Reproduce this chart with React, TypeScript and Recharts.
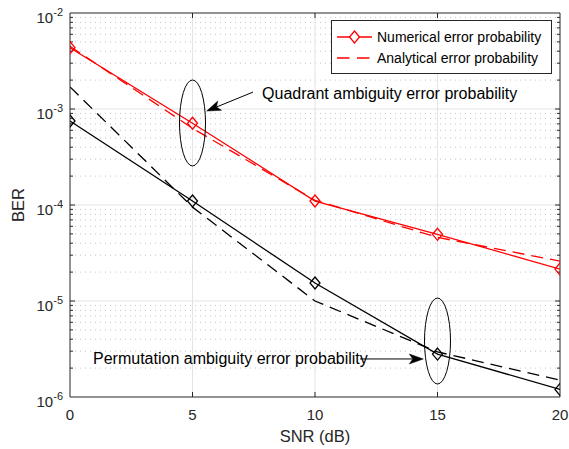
import React from 'react';
import { LineChart, Line, XAxis, YAxis, ReferenceLine, ReferenceDot, Legend, Label } from 'recharts';

// ---- data ----
const snr = [0, 5, 10, 15, 20];
const quadNumerical = [4.35e-3, 7.1e-4, 1.1e-4, 4.95e-5, 2.15e-5];
const quadAnalytical = [4.5e-3, 6.3e-4, 1.12e-4, 4.6e-5, 2.6e-5];
const permNumerical = [7.5e-4, 1.1e-4, 1.54e-5, 2.8e-6, 1.2e-6];
const permAnalytical = [1.7e-3, 9.5e-5, 1.0e-5, 2.95e-6, 1.5e-6];

const xTicks = [0, 5, 10, 15, 20];
const yTicks = [1e-6, 1e-5, 1e-4, 1e-3, 1e-2];
const decades = [1e-6, 1e-5, 1e-4, 1e-3];
const minorMultipliers = [2, 3, 4, 5, 6, 7, 8, 9];
const yMinor = decades.flatMap((d) => minorMultipliers.map((m) => m * d));

const legendLabels = ['Numerical error probability', 'Analytical error probability'];
const quadrantText = 'Quadrant ambiguity error probability';
const permutationText = 'Permutation ambiguity error probability';

// annotation anchors (data coordinates)
const quadEllipse = { x: 5, y: 7.15e-4 };
const permEllipse = { x: 15, y: 3.83e-6 };
const quadLabel = { x: 7.84, y: 1.47e-3 };
const permLabel = { x: 0.94, y: 2.55e-6 };
const quadArrow = [{ x: 7.47, y: 1.5e-3 }, { x: 5.58, y: 9.53e-4 }];
const permArrow = [{ x: 11.84, y: 2.49e-6 }, { x: 14.42, y: 2.49e-6 }];

const rows = snr.map((s, i) => ({
  snr: s,
  qn: quadNumerical[i],
  qa: quadAnalytical[i],
  pn: permNumerical[i],
  pa: permAnalytical[i],
}));

const FONT = '"Liberation Sans", Arial, Helvetica, sans-serif';
const AXIS = '#262626';
const RED = '#ff0000';
const DASH = '12 7';

const diamond = (color: string) => (p: any) => {
  const { cx, cy, index } = p;
  if (cx == null || cy == null) return <g key={`e-${index}`} />;
  const w = 5;
  const h = 6;
  return (
    <path
      key={`d-${color}-${index}`}
      d={`M${cx},${cy - h}L${cx + w},${cy}L${cx},${cy + h}L${cx - w},${cy}Z`}
      fill="none"
      stroke={color}
      strokeWidth={1.3}
    />
  );
};

const YTick = (p: any) => {
  const { x, y, payload } = p;
  const exp = Math.round(Math.log10(payload.value));
  return (
    <text x={x} y={y + 10} textAnchor="end" fontSize={15} fill={AXIS} fontFamily={FONT}>
      10
      <tspan dy={-7} fontSize={11}>{String(exp)}</tspan>
    </text>
  );
};

const XTick = (p: any) => {
  const { x, y, payload } = p;
  return (
    <text x={x} y={y + 23} textAnchor="middle" fontSize={15} fill={AXIS} fontFamily={FONT}>
      {payload.value}
    </text>
  );
};

const hLineShape = (gridColor: string, dash: string | undefined, tick: number) => (p: any) => {
  const xa = Math.min(p.x1, p.x2);
  const xb = Math.max(p.x1, p.x2);
  const y = p.y1;
  return (
    <g>
      <line x1={xa} y1={y} x2={xb} y2={y} stroke={gridColor} strokeWidth={1} strokeDasharray={dash} />
      <line x1={xa} y1={y} x2={xa + tick} y2={y} stroke={AXIS} strokeWidth={1} />
      <line x1={xb} y1={y} x2={xb - tick} y2={y} stroke={AXIS} strokeWidth={1} />
    </g>
  );
};

const vLineShape = (p: any) => {
  const ya = Math.min(p.y1, p.y2);
  const yb = Math.max(p.y1, p.y2);
  const x = p.x1;
  return (
    <g>
      <line x1={x} y1={ya} x2={x} y2={yb} stroke="#e3e3e3" strokeWidth={1} />
      <line x1={x} y1={ya} x2={x} y2={ya + 5} stroke={AXIS} strokeWidth={1} />
      <line x1={x} y1={yb} x2={x} y2={yb - 5} stroke={AXIS} strokeWidth={1} />
    </g>
  );
};

const frameShape = (p: any) => (
  <line x1={p.x1} y1={p.y1} x2={p.x2} y2={p.y2} stroke={AXIS} strokeWidth={1} />
);

const arrowShape = (p: any) => {
  const { x1, y1, x2, y2 } = p;
  const ang = Math.atan2(y2 - y1, x2 - x1);
  const L = 14;
  const W = 5;
  const c = Math.cos(ang);
  const s = Math.sin(ang);
  const bx = x2 - L * c;
  const by = y2 - L * s;
  const nx = x2 - 0.75 * L * c;
  const ny = y2 - 0.75 * L * s;
  const pts = `${x2},${y2} ${bx - W * s},${by + W * c} ${nx},${ny} ${bx + W * s},${by - W * c}`;
  return (
    <g>
      <line x1={x1} y1={y1} x2={nx} y2={ny} stroke="#000" strokeWidth={1} />
      <polygon points={pts} fill="#000" stroke="#000" strokeWidth={0.5} />
    </g>
  );
};

const ellipseShape = (p: any) => (
  <ellipse cx={p.cx} cy={p.cy} rx={13} ry={43} fill="none" stroke="#000" strokeWidth={1} />
);

const textShape = (txt: string) => (p: any) => (
  <text x={p.cx} y={p.cy} dy="0.35em" fontSize={16} fill="#000" fontFamily={FONT}>
    {txt}
  </text>
);

const LegendBox = () => (
  <svg width={221} height={54} style={{ display: 'block' }}>
    <rect x={0.5} y={0.5} width={220} height={53} fill="#fff" stroke={AXIS} strokeWidth={1} />
    <line x1={6} y1={17} x2={41} y2={17} stroke={RED} strokeWidth={1.3} />
    <path d="M23.5,11L28.5,17L23.5,23L18.5,17Z" fill="#fff" stroke={RED} strokeWidth={1.3} />
    <text x={46} y={17} dy="0.35em" fontSize={14} fill="#000" fontFamily={FONT}>
      {legendLabels[0]}
    </text>
    <line x1={6} y1={38} x2={41} y2={38} stroke={RED} strokeWidth={1.3} strokeDasharray="12.5 7.5" />
    <text x={46} y={38} dy="0.35em" fontSize={14} fill="#000" fontFamily={FONT}>
      {legendLabels[1]}
    </text>
  </svg>
);

export default function App() {
  return (
    <div style={{ position: 'absolute', left: 0, top: 0, width: 569, height: 449, background: '#fff' }}>
      <LineChart
        width={569}
        height={449}
        data={rows}
        margin={{ top: 13, right: 9, bottom: 22, left: 10 }}
      >
        <XAxis
          dataKey="snr"
          type="number"
          domain={[0, 20]}
          ticks={xTicks}
          allowDataOverflow
          height={30}
          tickLine={false}
          tickSize={0}
          tickMargin={0}
          tick={<XTick />}
          axisLine={{ stroke: AXIS, strokeWidth: 1 }}
          interval={0}
        >
          <Label
            content={(lp: any) => {
              const vb = lp.viewBox || { x: 70, y: 397, width: 490 };
              return (
                <text x={vb.x + vb.width / 2} y={vb.y + 45} textAnchor="middle" fontSize={16.5} fill={AXIS} fontFamily={FONT}>
                  SNR (dB)
                </text>
              );
            }}
          />
        </XAxis>
        <YAxis
          type="number"
          scale="log"
          domain={[1e-6, 1e-2]}
          ticks={yTicks}
          allowDataOverflow
          width={60}
          tickLine={false}
          tickSize={0}
          tickMargin={7}
          tick={<YTick />}
          axisLine={{ stroke: AXIS, strokeWidth: 1 }}
          interval={0}
        >
          <Label
            content={(lp: any) => {
              const vb = lp.viewBox || { x: 10, y: 13, height: 384 };
              const cx = 24;
              const cy = vb.y + vb.height / 2;
              return (
                <text x={cx} y={cy} textAnchor="middle" fontSize={16.5} fill={AXIS} fontFamily={FONT} transform={`rotate(-90 ${cx} ${cy})`}>
                  BER
                </text>
              );
            }}
          />
        </YAxis>

        {yMinor.map((v) => (
          <ReferenceLine key={`mn-${v}`} y={v} shape={hLineShape('#c4c4c4', '1 4', 3)} />
        ))}
        {yTicks.slice(1, 4).map((v) => (
          <ReferenceLine key={`mj-${v}`} y={v} shape={hLineShape('#e3e3e3', undefined, 5)} />
        ))}
        {xTicks.slice(1, 4).map((v) => (
          <ReferenceLine key={`vx-${v}`} x={v} shape={vLineShape} />
        ))}
        <ReferenceLine y={1e-2} shape={frameShape} />
        <ReferenceLine x={20} shape={frameShape} />

        <Line dataKey="qa" stroke={RED} strokeWidth={1.3} strokeDasharray={DASH} dot={false} isAnimationActive={false} legendType="none" />
        <Line dataKey="pa" stroke="#000" strokeWidth={1.3} strokeDasharray={DASH} dot={false} isAnimationActive={false} legendType="none" />
        <Line dataKey="qn" stroke={RED} strokeWidth={1.3} dot={diamond(RED)} isAnimationActive={false} legendType="none" />
        <Line dataKey="pn" stroke="#000" strokeWidth={1.3} dot={diamond('#000')} isAnimationActive={false} legendType="none" />

        <ReferenceDot x={quadEllipse.x} y={quadEllipse.y} shape={ellipseShape} />
        <ReferenceDot x={permEllipse.x} y={permEllipse.y} shape={ellipseShape} />
        <ReferenceDot x={quadLabel.x} y={quadLabel.y} shape={textShape(quadrantText)} />
        <ReferenceDot x={permLabel.x} y={permLabel.y} shape={textShape(permutationText)} />
        <ReferenceLine segment={quadArrow} shape={arrowShape} />
        <ReferenceLine segment={permArrow} shape={arrowShape} />

        <Legend
          layout="vertical"
          align="center"
          verticalAlign="middle"
          wrapperStyle={{ position: 'absolute', left: 331, top: 20, width: 221, height: 54 }}
          content={() => <LegendBox />}
        />
      </LineChart>
    </div>
  );
}
